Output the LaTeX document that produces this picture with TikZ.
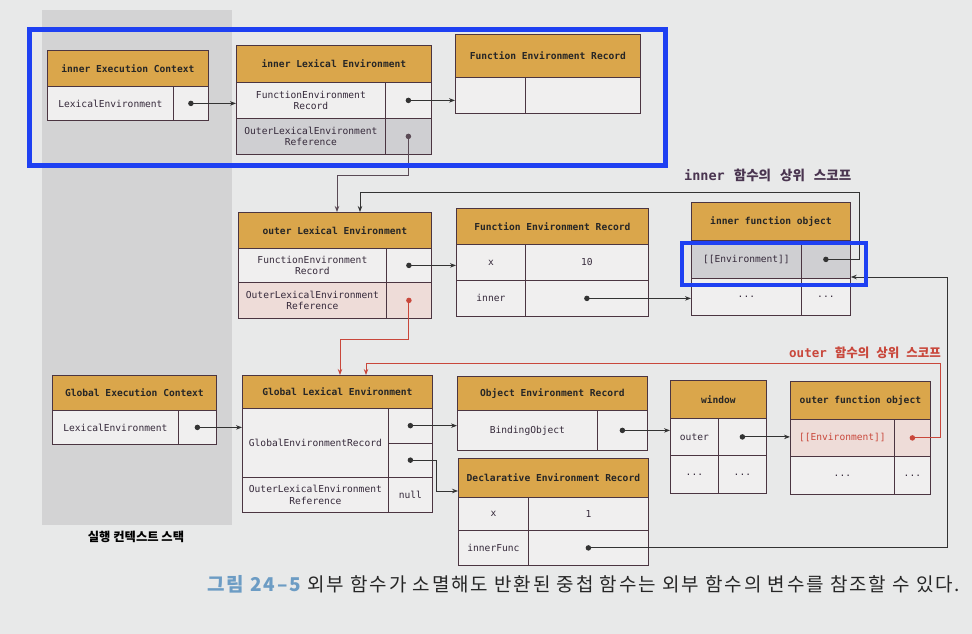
\documentclass[tikz,border=0pt]{standalone}
\usepackage{fontspec}
\setmonofont{DejaVu Sans Mono}
\newfontfamily\krfont{Noto Sans CJK KR}
\newfontfamily\krwide[LetterSpace=10]{Noto Sans CJK KR}
\usetikzlibrary{arrows.meta}

\definecolor{page}{HTML}{E8E9E9}
\definecolor{stack}{HTML}{D3D3D4}
\definecolor{hdrfill}{HTML}{DAA64B}
\definecolor{cellfill}{HTML}{F0EFEF}
\definecolor{grayfill}{HTML}{CFCFD2}
\definecolor{pinkfill}{HTML}{EEDCD8}
\definecolor{frame}{HTML}{4B3541}
\definecolor{ink}{HTML}{35293A}
\definecolor{wire}{HTML}{333333}
\definecolor{wiregray}{HTML}{5A4A55}
\definecolor{wirered}{HTML}{C9473B}
\definecolor{hilite}{HTML}{1E40F2}
\definecolor{capblue}{HTML}{6C9CC4}
\definecolor{labelink}{HTML}{4A3550}

\tikzset{
  box/.style={draw=frame, line width=0.8pt, fill=cellfill, inner sep=2pt,
    align=center, anchor=north west, text=ink,
    font=\ttfamily\fontsize{9.6}{11.5}\selectfont},
  hdr/.style={box, fill=hdrfill, text=black!85,
    font=\ttfamily\bfseries\fontsize{9.6}{11.5}\selectfont},
  shade/.style={box, fill=grayfill},
  pinkbox/.style={box, fill=pinkfill},
  dot/.style={circle, fill=wire, inner sep=0pt, minimum size=5.5pt},
  reddot/.style={dot, fill=wirered},
  conn/.style={draw=wire, line width=0.9pt, -{Stealth[length=6pt,width=4.5pt]}},
  redconn/.style={conn, draw=wirered},
  highlight/.style={draw=hilite, line width=5pt},
}

% \cell{style}{name}{x,y}{width}{height}{text}
\newcommand\cell[6]{\node[#1, minimum width=#4pt, minimum height=#5pt] (#2) at (#3) {#6};}

\begin{document}
\begin{tikzpicture}[x=1pt,y=-1pt]
\useasboundingbox (0,0) rectangle (972,634);
\fill[page] (0,0) rectangle (972,634);
% execution context stack panel
\fill[stack] (42,10) rectangle (232,525);

% ---------- inner execution context ----------
\cell{hdr}{iecH}{47,50}{161}{36}{inner Execution Context}
\cell{box}{iecA}{47,86}{126}{34}{LexicalEnvironment}
\cell{box}{iecR}{173,86}{35}{34}{}

% ---------- inner lexical environment ----------
\cell{hdr}{ileH}{236,45}{195}{37}{inner Lexical Environment}
\cell{box}{ileA}{236,82}{149}{36}{FunctionEnvironment\\Record}
\cell{box}{ileB}{385,82}{46}{36}{}
\cell{shade}{ileC}{236,118}{149}{36}{OuterLexicalEnvironment\\Reference}
\cell{shade}{ileE}{385,118}{46}{36}{}

% ---------- inner function environment record ----------
\cell{hdr}{iferH}{455,34}{185}{43}{Function Environment Record}
\cell{box}{iferA}{455,77}{70}{36}{}
\cell{box}{iferB}{525,77}{115}{36}{}

% ---------- outer lexical environment ----------
\cell{hdr}{oleH}{238,212}{193}{36}{outer Lexical Environment}
\cell{box}{oleA}{238,248}{148}{34}{FunctionEnvironment\\Record}
\cell{box}{oleB}{386,248}{45}{34}{}
\cell{pinkbox}{oleC}{238,282}{148}{36}{OuterLexicalEnvironment\\Reference}
\cell{pinkbox}{oleE}{386,282}{45}{36}{}

% ---------- outer function environment record ----------
\cell{hdr}{oferH}{456,208}{192}{36}{Function Environment Record}
\cell{box}{oferA}{456,244}{69}{36}{x}
\cell{box}{oferB}{525,244}{123}{36}{10}
\cell{box}{oferC}{456,280}{69}{36}{inner}
\cell{box}{oferE}{525,280}{123}{36}{}

% ---------- inner function object ----------
\cell{hdr}{ifoH}{691,202}{159}{38}{inner function object}
\cell{shade}{ifoA}{691,240}{110}{38}{[[Environment]]}
\cell{shade}{ifoB}{801,240}{49}{38}{}
\cell{box}{ifoC}{691,278}{110}{37}{...}
\cell{box}{ifoE}{801,278}{49}{37}{...}

% ---------- global execution context ----------
\cell{hdr}{gecH}{52,375}{164}{35}{Global Execution Context}
\cell{box}{gecA}{52,410}{126}{34}{LexicalEnvironment}
\cell{box}{gecR}{178,410}{38}{34}{}

% ---------- global lexical environment ----------
\cell{hdr}{gleH}{242,375}{190}{33}{Global Lexical Environment}
\cell{box}{gleA}{242,408}{146}{69}{GlobalEnvironmentRecord}
\cell{box}{gleB}{388,408}{44}{34.5}{}
\cell{box}{gleC}{388,442.5}{44}{34.5}{}
\cell{box}{gleE}{242,477}{146}{35}{OuterLexicalEnvironment\\Reference}
\cell{box}{gleF}{388,477}{44}{35}{null}

% ---------- object environment record ----------
\cell{hdr}{oerH}{457,376}{190}{34}{Object Environment Record}
\cell{box}{oerA}{457,410}{140}{40}{BindingObject}
\cell{box}{oerB}{597,410}{50}{40}{}

% ---------- declarative environment record ----------
\cell{hdr}{derH}{458,458}{190}{39}{Declarative Environment Record}
\cell{box}{derA}{458,497}{70}{33}{x}
\cell{box}{derB}{528,497}{120}{33}{1}
\cell{box}{derC}{458,530}{70}{35}{innerFunc}
\cell{box}{derE}{528,530}{120}{35}{}

% ---------- window ----------
\cell{hdr}{winH}{670,380}{96}{38}{window}
\cell{box}{winA}{670,418}{48}{37}{outer}
\cell{box}{winB}{718,418}{48}{37}{}
\cell{box}{winC}{670,455}{48}{38}{...}
\cell{box}{winE}{718,455}{48}{38}{...}

% ---------- outer function object ----------
\cell{hdr}{ofoH}{790,381}{140}{38}{outer function object}
\cell{pinkbox}{ofoA}{790,419}{104}{37}{\textcolor{wirered}{[[Environment]]}}
\cell{pinkbox}{ofoB}{894,419}{36}{37}{}
\cell{box}{ofoC}{790,456}{104}{38}{...}
\cell{box}{ofoE}{894,456}{36}{38}{...}

% ---------- reference dots ----------
\node[dot] (iecD) at (iecR.center) {};
\node[dot] (ileD1) at (ileB.center) {};
\node[dot, fill=wiregray] (ileD2) at (ileE.center) {};
\node[dot] (oleD1) at (oleB.center) {};
\node[reddot] (oleD2) at (oleE.center) {};
\node[dot] (oferD) at (oferE.center) {};
\node[dot] (ifoD) at (ifoB.center) {};
\node[dot] (gecD) at (gecR.center) {};
\node[dot] (gleD1) at (gleB.center) {};
\node[dot] (gleD2) at (gleC.center) {};
\node[dot] (oerD) at (oerB.center) {};
\node[dot] (derD) at (derE.center) {};
\node[dot] (winD) at (winB.center) {};
\node[reddot] (ofoD) at (ofoB.center) {};

% ---------- references ----------
\draw[conn] (iecD.center) -- (iecD.center -| ileA.west);
\draw[conn] (ileD1.center) -- (ileD1.center -| iferA.west);

\coordinate (j1) at (337,175);
\draw[conn, draw=wiregray] (ileD2.center) |- (j1) -- (j1 |- oleH.north);

\coordinate (j2) at (859,192);
\coordinate (j3) at (360,192);
\draw[conn] (ifoD.center) -| (j2) -- (j3) -- (j3 |- oleH.north);

\draw[conn] (oleD1.center) -- (oleD1.center -| oferA.west);
\draw[conn] (oferD.center) -- (oferD.center -| ifoC.west);

\coordinate (j4) at (947,277);
\draw[conn] (derD.center) -| (j4) -- (j4 -| ifoB.east);

\coordinate (j5) at (340,339);
\draw[redconn] (oleD2.center) |- (j5) -- (j5 |- gleH.north);

\coordinate (j6) at (940,363);
\coordinate (j7) at (366,363);
\draw[redconn] (ofoD.center) -| (j6) -- (j7) -- (j7 |- gleH.north);

\draw[conn] (gecD.center) -- (gecD.center -| gleA.west);
\draw[conn] (gleD1.center) -- (gleD1.center -| oerA.west);
\coordinate (j8) at (436,491);
\draw[conn] (gleD2.center) -| (j8) -- (j8 -| derH.west);
\draw[conn] (oerD.center) -- (oerD.center -| winA.west);
\draw[conn] (winD.center) -- (winD.center -| ofoA.west);

% ---------- labels ----------
\node[anchor=west, text=labelink, inner sep=0pt] (lblInner) at (684,175)
  {\ttfamily\bfseries\fontsize{13.5}{15}\selectfont inner\hspace{9pt}\krfont\bfseries 함수의\hspace{9pt}상위\hspace{9pt}스코프};
\node[anchor=west, text=wirered, inner sep=0pt] (lblOuter) at (789,353)
  {\ttfamily\bfseries\fontsize{12.5}{14}\selectfont outer\hspace{8pt}\krfont\bfseries 함수의\hspace{7pt}상위\hspace{7pt}스코프};
\node[inner sep=0pt, font=\krfont\bfseries\fontsize{12.3}{14}\selectfont] (stackLbl) at (136,537) {실행 컨텍스트 스택};
\node[anchor=west, inner sep=0pt, text=black!85, font=\krwide\fontsize{19}{21}\selectfont] (caption) at (207,584)
  {{\color{capblue}\bfseries 그림 24–5} 외부 함수가 소멸해도 반환된 중첩 함수는 외부 함수의 변수를 참조할 수 있다.};

% ---------- highlight frames ----------
\draw[highlight] (29,30) rectangle (665,165);
\draw[highlight, line width=4.5pt] (682,243) rectangle (866,285);
\end{tikzpicture}
\end{document}
